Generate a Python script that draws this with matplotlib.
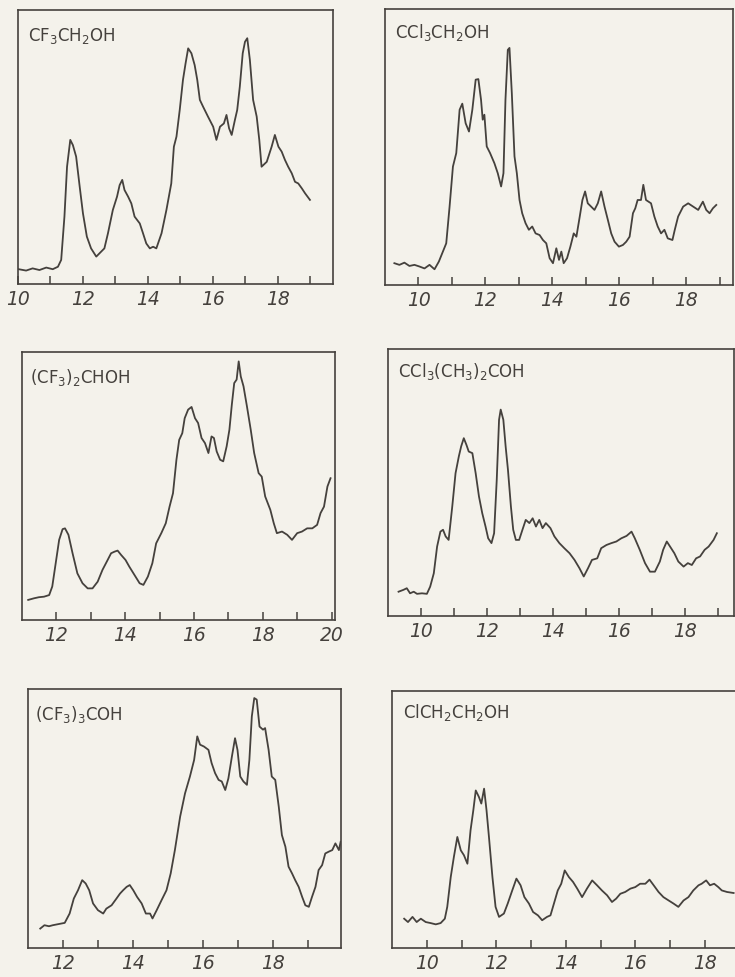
import matplotlib
matplotlib.use("Agg")
import matplotlib.pyplot as plt
from matplotlib import font_manager

plt.rcParams['mathtext.default'] = 'regular'
plt.rcParams['mathtext.fontset'] = 'dejavusans'

BG = '#f4f2eb'
INK = '#45413d'

# ---------------- data ----------------
# Panel 1: CF3CH2OH
p1_x = [10.02, 10.25, 10.45, 10.66, 10.87, 11.07, 11.23, 11.33, 11.43, 11.51, 11.61, 11.69, 11.79, 11.90,
        12.00, 12.12, 12.25, 12.41, 12.51, 12.66, 12.77, 12.92, 13.05, 13.13, 13.21, 13.28, 13.39, 13.49,
        13.59, 13.75, 13.85, 13.95, 14.06, 14.16, 14.26, 14.42, 14.57, 14.72, 14.80, 14.88, 14.98, 15.08,
        15.16, 15.24, 15.34, 15.44, 15.52, 15.60, 15.70, 15.85, 16.01, 16.11, 16.22, 16.34, 16.42, 16.50,
        16.58, 16.68, 16.75, 16.83, 16.92, 16.99, 17.06, 17.14, 17.24, 17.35, 17.43, 17.50, 17.66, 17.81,
        17.91, 18.02, 18.12, 18.22, 18.32, 18.43, 18.53, 18.63, 18.74, 18.84, 18.99]
p1_y = [5.4, 4.9, 5.7, 5.1, 6.0, 5.4, 6.3, 8.8, 24.6, 42.8, 52.6, 50.7, 46.5, 35.5,
        25.8, 17.3, 13.0, 10.0, 11.2, 13.0, 18.5, 27.0, 31.9, 36.1, 38.0, 34.3, 31.9, 29.4,
        24.6, 22.1, 18.5, 14.8, 13.0, 13.6, 13.0, 18.5, 27.0, 36.7, 50.1, 53.8, 63.5, 74.5,
        80.5, 86.0, 84.2, 79.9, 74.5, 67.2, 64.7, 61.1, 57.4, 52.6, 57.4, 58.6, 61.7, 56.8,
        54.4, 59.9, 63.5, 72.0, 84.2, 88.4, 89.7, 81.8, 67.2, 61.1, 52.6, 42.8, 44.6, 50.1,
        54.4, 50.1, 48.3, 45.3, 42.8, 40.4, 37.3, 36.7, 34.9, 33.1, 30.7]

# Panel 2: CCl3CH2OH
p2_x = [9.28, 9.43, 9.58, 9.73, 9.88, 10.03, 10.18, 10.33, 10.48, 10.61, 10.71, 10.83, 10.93, 11.03,
        11.13, 11.23, 11.31, 11.41, 11.51, 11.61, 11.71, 11.79, 11.87, 11.92, 11.97, 12.04, 12.14, 12.27,
        12.37, 12.47, 12.54, 12.60, 12.67, 12.72, 12.79, 12.87, 12.94, 13.02, 13.10, 13.20, 13.30, 13.40,
        13.50, 13.62, 13.72, 13.82, 13.92, 14.02, 14.12, 14.20, 14.27, 14.34, 14.44, 14.54, 14.64, 14.72,
        14.82, 14.90, 14.98, 15.06, 15.16, 15.26, 15.36, 15.46, 15.56, 15.66, 15.76, 15.86, 15.99, 16.11,
        16.21, 16.31, 16.41, 16.48, 16.55, 16.65, 16.72, 16.80, 16.95, 17.05, 17.15, 17.25, 17.35, 17.45,
        17.59, 17.66, 17.76, 17.91, 18.06, 18.21, 18.36, 18.50, 18.60, 18.70, 18.80, 18.90]
p2_y = [7.9, 7.3, 8.1, 6.9, 7.3, 6.7, 6.0, 7.3, 5.7, 8.5, 11.5, 15.1, 28.4, 42.9,
        47.8, 63.5, 65.7, 58.6, 55.6, 63.5, 74.4, 74.6, 67.1, 59.9, 61.7, 50.2, 47.8, 44.1,
        40.5, 35.7, 40.5, 67.1, 85.2, 85.9, 69.5, 46.6, 40.5, 30.8, 26.0, 22.4, 20.0, 21.2,
        18.7, 18.1, 16.3, 15.1, 9.7, 7.9, 13.3, 9.1, 12.1, 7.9, 9.7, 13.9, 18.7, 17.5,
        24.8, 30.8, 33.9, 29.6, 28.4, 27.2, 29.6, 33.9, 28.4, 23.6, 18.7, 15.7, 13.9, 14.5,
        15.7, 17.5, 26.0, 27.8, 30.8, 30.8, 36.3, 30.8, 29.6, 24.8, 21.2, 18.7, 20.0, 16.9,
        16.3, 20.0, 24.8, 28.4, 29.6, 28.4, 27.2, 30.2, 27.2, 26.0, 27.8, 29.0]

# Panel 3: (CF3)2CHOH
p3_x = [11.18, 11.35, 11.49, 11.64, 11.79, 11.88, 11.98, 12.08, 12.18, 12.25, 12.35, 12.47, 12.61, 12.76,
        12.91, 13.05, 13.20, 13.34, 13.49, 13.59, 13.69, 13.78, 13.88, 14.01, 14.12, 14.27, 14.42, 14.53,
        14.66, 14.79, 14.90, 15.05, 15.18, 15.29, 15.39, 15.49, 15.57, 15.66, 15.73, 15.83, 15.93, 16.03,
        16.12, 16.22, 16.32, 16.42, 16.51, 16.58, 16.66, 16.76, 16.85, 16.95, 17.03, 17.10, 17.17, 17.24,
        17.30, 17.36, 17.44, 17.54, 17.65, 17.75, 17.88, 17.97, 18.07, 18.22, 18.32, 18.41, 18.56, 18.71,
        18.85, 19.00, 19.14, 19.29, 19.44, 19.58, 19.68, 19.78, 19.88, 19.97]
p3_y = [7.5, 8.1, 8.5, 8.7, 9.3, 12.5, 21.2, 29.9, 33.9, 34.2, 31.8, 24.9, 17.4, 13.7,
        11.8, 11.8, 14.3, 18.7, 22.4, 24.9, 25.5, 25.9, 24.3, 22.4, 19.9, 16.8, 13.7, 13.1,
        16.2, 21.2, 28.6, 32.4, 36.1, 42.3, 47.3, 59.8, 67.2, 69.7, 75.3, 78.5, 79.5, 75.3,
        73.5, 67.9, 66.0, 62.3, 68.5, 67.9, 62.9, 59.8, 59.2, 64.8, 71.0, 80.3, 88.4, 89.7,
        96.5, 90.9, 87.2, 79.7, 71.0, 62.3, 54.8, 53.5, 46.1, 41.1, 36.1, 32.4, 33.0, 31.8,
        29.9, 32.4, 33.0, 34.2, 34.2, 35.5, 39.9, 42.3, 49.8, 52.9]

# Panel 4: CCl3(CH3)2COH
p4_x = [9.32, 9.47, 9.57, 9.67, 9.78, 9.88, 10.03, 10.18, 10.28, 10.39, 10.49, 10.59, 10.67, 10.75,
        10.84, 10.95, 11.05, 11.15, 11.22, 11.30, 11.38, 11.45, 11.56, 11.66, 11.76, 11.86, 11.96, 12.04,
        12.14, 12.22, 12.30, 12.37, 12.42, 12.50, 12.57, 12.64, 12.73, 12.80, 12.88, 12.98, 13.08, 13.18,
        13.29, 13.39, 13.49, 13.59, 13.69, 13.79, 13.93, 14.05, 14.20, 14.35, 14.51, 14.66, 14.81, 14.94,
        15.07, 15.19, 15.35, 15.47, 15.63, 15.78, 15.93, 16.08, 16.24, 16.39, 16.49, 16.64, 16.80, 16.95,
        17.10, 17.25, 17.35, 17.46, 17.56, 17.69, 17.81, 17.97, 18.10, 18.22, 18.35, 18.47, 18.61, 18.73,
        18.88, 18.98]
p4_y = [9.1, 9.8, 10.4, 8.5, 9.1, 8.3, 8.5, 8.3, 11.0, 16.0, 26.0, 31.6, 32.3, 29.8,
        28.5, 41.0, 53.5, 59.8, 63.5, 66.6, 64.1, 61.6, 61.0, 53.5, 44.8, 38.5, 33.5, 29.1,
        27.3, 31.0, 51.0, 73.5, 77.3, 73.5, 63.5, 54.8, 41.0, 32.3, 28.5, 28.5, 32.3, 36.0,
        34.8, 36.6, 33.5, 36.0, 32.9, 34.8, 32.9, 29.8, 27.3, 25.4, 23.5, 21.0, 17.9, 14.8,
        17.9, 21.0, 21.6, 25.4, 26.6, 27.3, 27.9, 29.1, 30.0, 31.6, 29.1, 24.8, 19.8, 16.6,
        16.6, 20.4, 24.8, 27.9, 26.0, 23.5, 20.4, 18.5, 19.8, 19.1, 21.6, 22.3, 24.8, 26.0,
        28.5, 31.0]

# Panel 5: (CF3)3COH
p5_x = [11.35, 11.47, 11.60, 11.71, 11.86, 12.05, 12.19, 12.31, 12.43, 12.55, 12.65, 12.75, 12.86, 13.00,
        13.15, 13.24, 13.39, 13.53, 13.63, 13.72, 13.82, 13.91, 14.01, 14.12, 14.25, 14.37, 14.49, 14.56,
        14.68, 14.82, 14.96, 15.08, 15.20, 15.35, 15.49, 15.63, 15.75, 15.84, 15.92, 16.03, 16.16, 16.25,
        16.35, 16.45, 16.54, 16.64, 16.73, 16.83, 16.92, 16.99, 17.07, 17.16, 17.26, 17.33, 17.40, 17.47,
        17.54, 17.62, 17.72, 17.78, 17.88, 17.97, 18.07, 18.17, 18.26, 18.36, 18.45, 18.55, 18.64, 18.74,
        18.84, 18.93, 19.03, 19.12, 19.22, 19.31, 19.41, 19.50, 19.60, 19.70, 19.79, 19.89, 19.94]
p5_y = [7.5, 8.8, 8.4, 8.8, 9.2, 9.7, 13.3, 19.1, 22.3, 26.2, 24.9, 22.3, 17.2, 14.6,
        13.3, 15.2, 16.5, 19.1, 21.0, 22.3, 23.6, 24.3, 22.3, 19.7, 17.2, 13.3, 13.3, 11.4,
        14.6, 18.5, 22.3, 28.8, 37.8, 50.7, 59.7, 66.2, 72.6, 81.7, 78.5, 77.8, 76.5, 71.4,
        67.5, 64.9, 64.3, 61.0, 65.5, 73.9, 81.0, 76.5, 66.2, 64.3, 63.0, 72.6, 89.4, 96.5,
        95.9, 85.5, 84.3, 84.9, 76.5, 66.2, 64.9, 54.6, 43.6, 39.1, 31.4, 28.8, 26.2, 23.6,
        19.7, 16.5, 15.9, 19.7, 23.6, 30.1, 32.0, 36.5, 37.2, 37.8, 40.4, 37.8, 41.0]

# Panel 6: ClCH2CH2OH
p6_x = [9.35, 9.46, 9.59, 9.71, 9.83, 9.97, 10.11, 10.26, 10.40, 10.52, 10.59, 10.69, 10.78, 10.88,
        10.98, 11.07, 11.17, 11.26, 11.34, 11.41, 11.50, 11.57, 11.65, 11.72, 11.79, 11.89, 11.98, 12.08,
        12.22, 12.33, 12.46, 12.58, 12.70, 12.81, 12.94, 13.06, 13.20, 13.32, 13.46, 13.56, 13.66, 13.77,
        13.87, 13.97, 14.09, 14.21, 14.33, 14.47, 14.61, 14.76, 14.90, 15.04, 15.19, 15.33, 15.45, 15.57,
        15.71, 15.86, 16.00, 16.14, 16.29, 16.41, 16.53, 16.67, 16.81, 16.96, 17.10, 17.24, 17.39, 17.53,
        17.67, 17.82, 17.91, 18.04, 18.15, 18.27, 18.39, 18.49, 18.64, 18.83]
p6_y = [11.4, 10.1, 12.1, 10.1, 11.4, 10.1, 9.7, 9.2, 9.7, 11.4, 16.0, 27.6, 35.4, 43.2,
        38.0, 36.1, 32.8, 45.8, 53.6, 61.3, 58.8, 56.2, 62.0, 53.6, 43.2, 27.6, 16.0, 12.1,
        13.4, 17.3, 22.4, 27.0, 24.4, 19.8, 17.3, 14.0, 12.7, 10.8, 12.1, 12.7, 17.3, 22.4,
        25.0, 30.2, 27.6, 25.7, 23.1, 19.8, 23.1, 26.3, 24.4, 22.4, 20.5, 17.9, 19.2, 21.1,
        21.8, 23.1, 23.7, 25.0, 25.0, 26.6, 24.4, 21.8, 19.8, 18.5, 17.3, 16.0, 18.5, 19.8,
        22.4, 24.4, 25.0, 26.3, 24.4, 25.0, 23.7, 22.4, 21.8, 21.4]

labels = ['CF$_3$CH$_2$OH', 'CCl$_3$CH$_2$OH', '(CF$_3$)$_2$CHOH',
          'CCl$_3$(CH$_3$)$_2$COH', '(CF$_3$)$_3$COH', 'ClCH$_2$CH$_2$OH']
xlims = [(10.0, 19.7), (9.0, 19.4), (11.0, 20.1), (9.0, 19.5), (11.0, 19.95), (9.0, 18.87)]
major_ticks = [[10, 12, 14, 16, 18], [10, 12, 14, 16, 18], [12, 14, 16, 18, 20],
               [10, 12, 14, 16, 18], [12, 14, 16, 18], [10, 12, 14, 16, 18]]
minor_ticks = [[11, 13, 15, 17, 19], [11, 13, 15, 17, 19], [13, 15, 17, 19],
               [11, 13, 15, 17, 19], [13, 15, 17, 19], [11, 13, 15, 17]]
series = [(p1_x, p1_y), (p2_x, p2_y), (p3_x, p3_y), (p4_x, p4_y), (p5_x, p5_y), (p6_x, p6_y)]

# ---------------- layout ----------------
W, H = 735, 977
# (left, right, top, bottom) in pixels
boxes = [(18, 333, 10, 284), (385, 733, 9, 285), (22, 335, 352, 620),
         (388, 734, 349, 616), (28, 341, 689, 948), (392, 735, 691, 948)]
label_pos = [(0.032, 0.887), (0.029, 0.895), (0.026, 0.884),
             (0.029, 0.896), (0.021, 0.881), (0.032, 0.894)]

fig = plt.figure(figsize=(W / 100, H / 100), dpi=100, facecolor=BG)

for i in range(6):
    l, r, t, b = boxes[i]
    ax = fig.add_axes([l / W, (H - b) / H, (r - l) / W, (b - t) / H])
    ax.set_facecolor('none')
    x, y = series[i]
    ax.plot(x, y, color=INK, lw=1.3, solid_joinstyle='round')
    ax.set_xlim(*xlims[i])
    ax.set_ylim(0, 100)
    ax.set_yticks([])
    ax.set_xticks(major_ticks[i])
    ax.set_xticks(minor_ticks[i], minor=True)
    ax.set_xticklabels([str(v) for v in major_ticks[i]], fontstyle='italic',
                       family='DejaVu Sans', fontsize=13.5, color=INK)
    ax.tick_params(axis='x', which='both', direction='in', length=6, width=1.1,
                   color=INK, pad=4)
    for s in ax.spines.values():
        s.set_color(INK)
        s.set_linewidth(1.2)
    if i == 5:
        ax.spines['right'].set_visible(False)
    lx, ly = label_pos[i]
    ax.text(lx, ly, labels[i], transform=ax.transAxes, ha='left', va='baseline',
            fontsize=12, color=INK, family='DejaVu Sans')

fig.savefig('out.png', dpi=100, facecolor=BG)
